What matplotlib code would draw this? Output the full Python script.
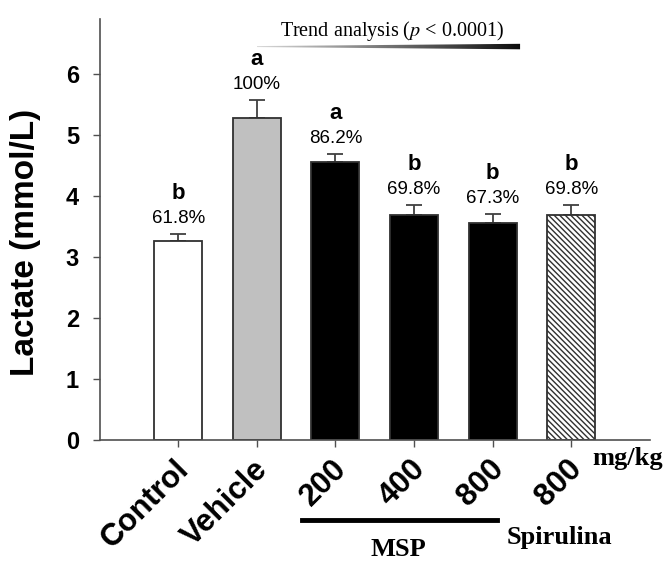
import matplotlib
matplotlib.use("Agg")
import matplotlib.pyplot as plt
from matplotlib.patches import Polygon
import numpy as np

groups = ["Control", "Vehicle", "200", "400", "800", "800"]
lactate = [3.27, 5.28, 4.56, 3.69, 3.55, 3.69]
sem = [0.11, 0.29, 0.13, 0.16, 0.15, 0.17]
letters = ["b", "a", "a", "b", "b", "b"]
percents = ["61.8%", "100%", "86.2%", "69.8%", "67.3%", "69.8%"]

face = ["white", "#c0c0c0", "black", "black", "black", "white"]
hatches = [None, None, None, None, None, "\\\\\\\\\\\\"]

plt.rcParams["font.family"] = ["Liberation Sans", "DejaVu Sans"]
plt.rcParams["hatch.linewidth"] = 1.0
plt.rcParams["hatch.color"] = "#404040"
axcol = "#505050"

fig = plt.figure(figsize=(6.65, 5.62), dpi=100)
ax = fig.add_axes([0.150, 0.217, 0.827, 0.749])

x = np.arange(len(groups))
bars = ax.bar(x, lactate, width=0.61, color=face, edgecolor="#303030", linewidth=1.3, zorder=2)
for b, h in zip(bars, hatches):
    if h:
        b.set_hatch(h)
ax.errorbar(x, lactate, yerr=[np.zeros(len(sem)), sem], fmt="none", ecolor="#404040",
            elinewidth=1.3, capsize=6, capthick=1.3, zorder=1)

# letters and percentages above the error bars
for xi, v, e, let, pct in zip(x, lactate, sem, letters, percents):
    ax.annotate(pct, (xi, v + e), xytext=(0, 11), textcoords="offset pixels",
                ha="center", va="baseline", fontsize=13.5)
    ax.annotate(let, (xi, v + e), xytext=(0, 35), textcoords="offset pixels",
                ha="center", va="baseline", fontsize=16, fontweight="bold")

ax.set_xlim(-1.0, 6.0)
ax.set_ylim(0, 6.9)
ax.set_yticks(range(0, 7))
ax.set_xticks(x)
ax.set_xticklabels([])
# group labels drawn by hand so they can sit a little right of the ticks
for xi, g in zip(x, groups):
    ax.annotate(g, (xi, 0), xytext=(17, -14), textcoords="offset pixels",
                rotation=45, ha="right", va="top", fontsize=22.5, fontweight="bold")
for lab in ax.get_yticklabels():
    lab.set_fontweight("bold")
    lab.set_fontsize(17)
ax.tick_params(axis="both", direction="out", length=5, width=1, color=axcol)
ax.tick_params(axis="y", pad=10)
for s in ["top", "right"]:
    ax.spines[s].set_visible(False)
for s in ["left", "bottom"]:
    ax.spines[s].set_color(axcol)
    ax.spines[s].set_linewidth(1.2)

ax.set_ylabel("Lactate (mmol/L)", fontsize=24, fontweight="bold")
ax.yaxis.set_label_coords(-0.107, 0.47)

# trend wedge with gray-to-black gradient
x0, x1, yc = 1.0, 4.35, 6.45
wedge = Polygon([(x0, yc - 0.008), (x1, yc - 0.045), (x1, yc + 0.045), (x0, yc + 0.008)],
                closed=True, facecolor="none", edgecolor="none", transform=ax.transData)
ax.add_patch(wedge)
grad = np.linspace(0.85, 0.05, 256).reshape(1, -1)
im = ax.imshow(grad, cmap="gray", vmin=0, vmax=1, aspect="auto",
               extent=[x0, x1, yc - 0.05, yc + 0.05], interpolation="bilinear", zorder=3)
im.set_clip_path(wedge)
ax.set_xlim(-1.0, 6.0)
ax.set_ylim(0, 6.9)
ax.text(2.72, 6.62, "Trend analysis ($\\it{p}$ < 0.0001)", ha="center", va="baseline",
        fontsize=14.5, family="Liberation Serif", math_fontfamily="stix")

serif = dict(family="Liberation Serif", fontweight="bold", clip_on=False)
ax.text(5.27, -0.30, "mg/kg", ha="left", va="center", fontsize=19, **serif)
ax.plot([1.58, 4.05], [-1.31, -1.31], color="black", linewidth=3.5, clip_on=False)
ax.text(2.8, -1.80, "MSP", ha="center", va="center", fontsize=19, **serif)
ax.text(4.85, -1.59, "Spirulina", ha="center", va="center", fontsize=19, **serif)

fig.savefig("out.png", dpi=100)
